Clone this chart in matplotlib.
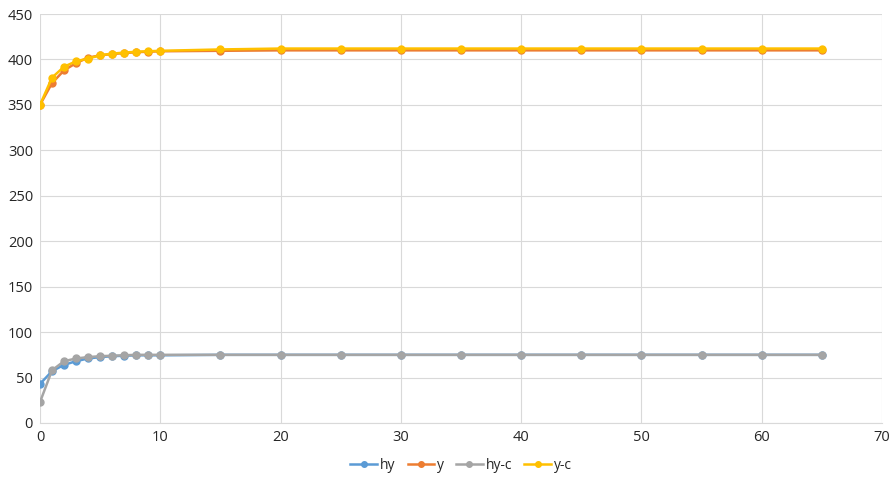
import matplotlib.pyplot as plt

# Data
x = [0, 1, 2, 3, 4, 5, 6, 7, 8, 9, 10, 15, 20, 25, 30, 35, 40, 45, 50, 55, 60, 65]
hy = [43, 57, 64, 68, 71, 72.5, 73.5, 74, 74.5, 74.5, 74.5, 75, 75, 75, 75, 75, 75, 75, 75, 75, 75, 75]
y = [350, 374, 388, 396, 402, 404.5, 406, 407, 408, 408.5, 409, 409.5, 410, 410, 410, 410, 410, 410, 410, 410, 410, 410]
hy_c = [23, 58, 68, 71, 72.5, 73.5, 74, 74.5, 75, 75, 75, 75, 75, 75, 75, 75, 75, 75, 75, 75, 75, 75]
y_c = [350, 380, 392, 398, 401, 404.5, 406.5, 407.5, 408.5, 409, 409.5, 411, 412, 412, 412, 412, 412, 412, 412, 412, 412, 412]

series = [('hy', hy, '#5B9BD5'), ('y', y, '#ED7D31'),
          ('hy-c', hy_c, '#A5A5A5'), ('y-c', y_c, '#FFC000')]

plt.rcParams['font.family'] = ['Open Sans', 'DejaVu Sans']

fig = plt.figure(figsize=(8.95, 4.79), dpi=100)
ax = fig.add_axes([40 / 895, 1 - 423 / 479, 842 / 895, 409 / 479])

for name, vals, col in series:
    ax.plot(x, vals, color=col, lw=1.8, marker='o', ms=5, label=name)

ax.set_xlim(0, 70)
ax.set_ylim(0, 450)
ax.set_xticks(range(0, 71, 10))
ax.set_yticks(range(0, 451, 50))
ax.grid(color='#d9d9d9', lw=0.8)
ax.set_axisbelow(True)
for s in ['top', 'right', 'left']:
    ax.spines[s].set_visible(False)
ax.spines['bottom'].set_color('#d9d9d9')
ax.tick_params(length=0, labelsize=10.5, colors='#262626', pad=5)

ax.legend(loc='upper center', bbox_to_anchor=(0.5, -0.055), ncol=4, frameon=False,
          fontsize=10, handlelength=1.9, columnspacing=0.9, handletextpad=0.2,
          labelcolor='#262626', markerscale=0.8)

fig.savefig('out.png', dpi=100)
